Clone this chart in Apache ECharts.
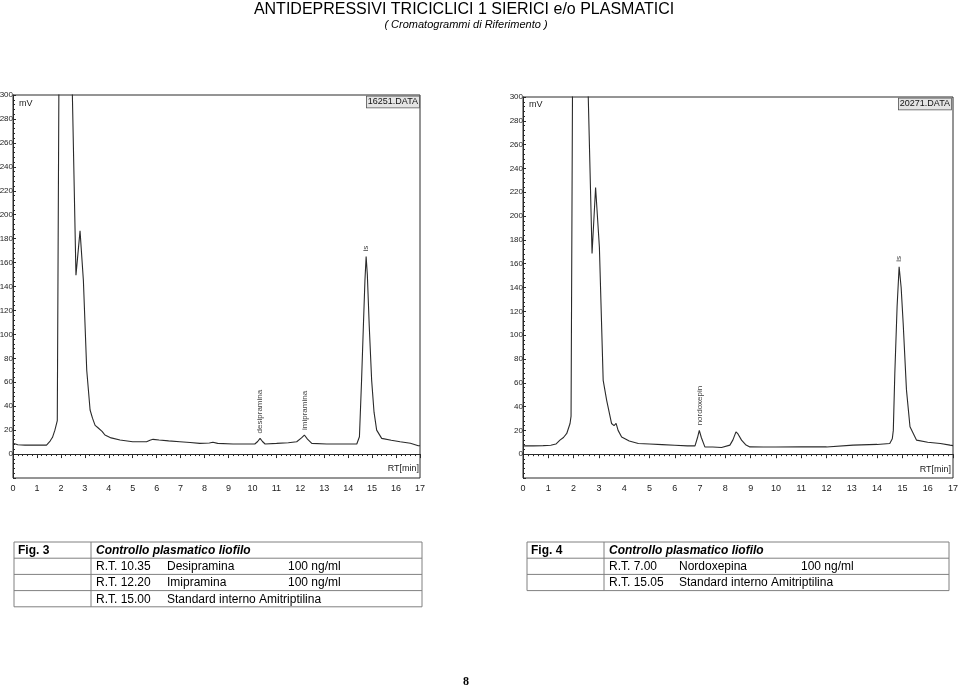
<!DOCTYPE html>
<html><head><meta charset="utf-8">
<script src="https://cdn.jsdelivr.net/npm/echarts@6/dist/echarts.min.js"></script>
<style>html,body{margin:0;padding:0;background:#fff}#c{width:959px;height:689px}</style>
</head><body><div id="c"></div>
<script>
// ---- data ----
const xTickLabels = ['0','1','2','3','4','5','6','7','8','9','10','11','12','13','14','15','16','17'];
const yTickLabels = ['0','20','40','60','80','100','120','140','160','180','200','220','240','260','280','300'];

const fig3Time   = [0, 0.2, 0.5, 1.0, 1.4, 1.55, 1.65, 1.75, 1.85, 1.92, 2.2, 2.48, 2.63, 2.8, 2.94, 3.08, 3.22, 3.32, 3.43, 3.55, 3.63, 3.72, 3.84, 4.1, 4.47, 5.0, 5.58, 5.72, 5.85, 6.1, 6.5, 6.97, 7.4, 7.8, 8.2, 8.35, 8.55, 9.19, 10.1, 10.22, 10.32, 10.42, 10.53, 11.01, 11.5, 11.85, 12.05, 12.17, 12.3, 12.48, 13.1, 13.8, 14.36, 14.47, 14.56, 14.64, 14.7, 14.75, 14.8, 14.88, 14.98, 15.08, 15.19, 15.4, 15.8, 16.17, 16.6, 16.93, 17.0];
const fig3Signal = [9, 7.8, 7.5, 7.5, 7.5, 10.9, 14, 20, 28, 320, 1200, 300, 149.5, 186.5, 145, 70, 36.8, 30, 24, 22, 22.8, 19, 15.9, 13.5, 11.7, 10.3, 10.3, 11.5, 12.3, 11.7, 11, 10.3, 9.6, 8.9, 9.2, 9.8, 8.9, 8.4, 8.4, 10.5, 13.1, 10.5, 8.4, 8.9, 9.5, 10.3, 13.5, 15.9, 12.5, 8.9, 8.4, 8.4, 8.4, 14.5, 61.8, 110, 145, 165, 150, 107, 61.8, 35, 20, 13.1, 11.5, 10.3, 9, 7.0, 6.9];

const fig4Time   = [0, 0.4, 0.8, 1.1, 1.3, 1.46, 1.6, 1.73, 1.86, 1.9, 1.96, 2.25, 2.58, 2.73, 2.87, 3.02, 3.17, 3.31, 3.5, 3.6, 3.68, 3.76, 3.9, 4.2, 4.56, 5.0, 5.5, 6.0, 6.5, 6.8, 6.9, 6.97, 7.05, 7.19, 7.5, 7.85, 8.18, 8.3, 8.42, 8.5, 8.64, 8.8, 8.97, 9.5, 10.0, 11.0, 12.0, 13.05, 14.0, 14.5, 14.6, 14.64, 14.7, 14.79, 14.87, 14.95, 15.03, 15.16, 15.3, 15.56, 16.0, 16.5, 16.88, 17.0];
const fig4Signal = [7, 7, 7.2, 7.5, 8.5, 11.8, 14, 17.4, 25.8, 32, 320, 1200, 300, 168.6, 224, 174, 62, 45, 25.8, 24, 25.8, 20, 14.5, 11, 9, 8.5, 8, 7.5, 7, 7, 14, 20, 14, 6.1, 6, 5.6, 7.6, 12, 18.7, 17, 11.8, 8, 6.1, 6, 6, 6.1, 6.1, 7.6, 8.2, 9, 13, 20, 68, 124, 157.4, 140, 110, 54, 23, 11.8, 10, 9, 7.6, 7.2];

const fig3PeakNames = ['desipramina', 'imipramina', 'is'];
const fig3PeakTimes = [10.32, 12.17, 14.75];
const fig3PeakHeights = [13.1, 15.9, 165];
const fig4PeakNames = ['nordoxepin', 'is'];
const fig4PeakTimes = [6.97, 14.87];
const fig4PeakHeights = [20, 157.4];

const fig3Caption = ['Fig. 3', 'Controllo plasmatico liofilo'];
const fig3Rows = [['R.T. 10.35', 'Desipramina', '100 ng/ml'], ['R.T. 12.20', 'Imipramina', '100 ng/ml'], ['R.T. 15.00', 'Standard interno Amitriptilina', '']];
const fig4Caption = ['Fig. 4', 'Controllo plasmatico liofilo'];
const fig4Rows = [['R.T. 7.00', 'Nordoxepina', '100 ng/ml'], ['R.T. 15.05', 'Standard interno Amitriptilina', '']];

// ---- chart ----
const chart = echarts.init(document.getElementById('c'), null, {renderer: 'canvas'});
const axisFont = "'Liberation Sans',Arial,sans-serif";
const ink = '#2a2a2a';

function xAx(gi) {
  return {
    gridIndex: gi, type: 'value', min: 0, max: 17, interval: 1,
    axisLine: {show: true, lineStyle: {color: ink, width: 1}},
    axisTick: {show: true, length: 4, lineStyle: {color: ink}},
    minorTick: {show: true, splitNumber: 5, length: 2, lineStyle: {color: ink}},
    splitLine: {show: false},
    axisLabel: {fontSize: 9, margin: 6, color: '#222', fontFamily: axisFont,
      formatter: v => xTickLabels[Math.round(v)] ?? ''}
  };
}
function yAx(gi) {
  return {
    gridIndex: gi, type: 'value', min: -20, max: 300, interval: 20,
    axisLine: {show: true, lineStyle: {color: ink, width: 1}},
    axisTick: {show: true, inside: true, length: 3, lineStyle: {color: ink}},
    minorTick: {show: true, splitNumber: 5, length: 2, lineStyle: {color: ink}},
    splitLine: {show: false},
    axisLabel: {fontSize: 8, margin: 0, color: '#222', fontFamily: axisFont,
      formatter: v => v < 0 ? '' : (yTickLabels[Math.round(v / 20)] ?? '')}
  };
}
function peakMarks(names, times, heights) {
  return {
    symbol: 'rect', symbolSize: [0.01, 0.01], silent: true, animation: false,
    label: {show: true, position: 'top', distance: 5, rotate: 90, align: 'left', verticalAlign: 'middle',
      fontSize: 8, color: '#444', fontFamily: axisFont, formatter: p => p.name},
    data: names.map((n, i) => ({name: n, coord: [times[i], heights[i]]}))
  };
}
function lineSeries(gi, t, s, marks) {
  return {
    type: 'line', xAxisIndex: gi, yAxisIndex: gi, showSymbol: false, clip: true, animation: false,
    lineStyle: {color: ink, width: 1.1}, itemStyle: {color: ink},
    data: t.map((x, i) => [x, s[i]]), markPoint: marks
  };
}

// table graphics
function table(x0, xDiv, x1, yTop, rowH, caption, rows, cols) {
  const els = [];
  const nRows = rows.length + 1;
  const lc = '#808080';
  for (let r = 0; r <= nRows; r++) {
    const y = yTop + r * rowH;
    els.push({type: 'line', shape: {x1: x0, y1: y, x2: x1, y2: y}, style: {stroke: lc, lineWidth: 1}});
  }
  const yb = yTop + nRows * rowH;
  [x0, xDiv, x1].forEach(x => els.push({type: 'line', shape: {x1: x, y1: yTop, x2: x, y2: yb}, style: {stroke: lc, lineWidth: 1}}));
  const f = "'Liberation Sans',Arial,sans-serif";
  els.push({type: 'text', x: x0 + 4, y: yTop + rowH / 2 + 0.5, style: {text: caption[0], font: 'bold 12px ' + f, fill: '#000', verticalAlign: 'middle'}});
  els.push({type: 'text', x: xDiv + 5, y: yTop + rowH / 2 + 0.5, style: {text: caption[1], font: 'italic bold 12px ' + f, fill: '#000', verticalAlign: 'middle'}});
  rows.forEach((row, i) => {
    const y = yTop + (i + 1.5) * rowH + 0.5;
    row.forEach((txt, j) => {
      if (txt) els.push({type: 'text', x: cols[j], y: y, style: {text: txt, font: '12px ' + f, fill: '#000', verticalAlign: 'middle'}});
    });
  });
  return els;
}

const smallFont = "9px 'Liberation Sans',Arial,sans-serif";
const graphics = [
  {type: 'text', x: 464, y: 10, style: {text: 'ANTIDEPRESSIVI TRICICLICI 1 SIERICI e/o PLASMATICI', font: "16px 'Liberation Sans',Arial,sans-serif", fill: '#000', align: 'center', verticalAlign: 'middle'}},
  {type: 'text', x: 466, y: 25, style: {text: '( Cromatogrammi di Riferimento )', font: "italic 11px 'Liberation Sans',Arial,sans-serif", fill: '#000', align: 'center', verticalAlign: 'middle'}},
  {type: 'text', x: 19, y: 104, style: {text: 'mV', font: smallFont, fill: '#222', verticalAlign: 'middle'}},
  {type: 'text', x: 529, y: 105, style: {text: 'mV', font: smallFont, fill: '#222', verticalAlign: 'middle'}},
  {type: 'text', x: 419, y: 102, style: {text: '16251.DATA', font: smallFont, fill: '#111', align: 'right', verticalAlign: 'middle', backgroundColor: '#e4e4e4', borderColor: '#555', borderWidth: 0.8, padding: [1, 1]}},
  {type: 'text', x: 951, y: 104, style: {text: '20271.DATA', font: smallFont, fill: '#111', align: 'right', verticalAlign: 'middle', backgroundColor: '#e4e4e4', borderColor: '#555', borderWidth: 0.8, padding: [1, 1]}},
  {type: 'text', x: 419, y: 469, style: {text: 'RT[min]', font: smallFont, fill: '#222', align: 'right', verticalAlign: 'middle'}},
  {type: 'text', x: 951, y: 470, style: {text: 'RT[min]', font: smallFont, fill: '#222', align: 'right', verticalAlign: 'middle'}},
  {type: 'text', x: 466, y: 682, style: {text: '8', font: "bold 12px 'Liberation Serif',serif", fill: '#000', align: 'center', verticalAlign: 'middle'}}
].concat(
  table(14, 91, 422, 542, 16.2, fig3Caption, fig3Rows, [96, 167, 288]),
  table(527, 604, 949, 542, 16.2, fig4Caption, fig4Rows, [609, 679, 801])
);

chart.setOption({
  animation: false,
  backgroundColor: '#fff',
  grid: [
    {left: 13, top: 95, width: 407, height: 383, show: true, borderColor: ink, borderWidth: 1, backgroundColor: 'transparent', containLabel: false, outerBoundsMode: 'none'},
    {left: 523, top: 97, width: 430, height: 381, show: true, borderColor: ink, borderWidth: 1, backgroundColor: 'transparent', containLabel: false, outerBoundsMode: 'none'}
  ],
  xAxis: [xAx(0), xAx(1)],
  yAxis: [yAx(0), yAx(1)],
  series: [
    lineSeries(0, fig3Time, fig3Signal, peakMarks(fig3PeakNames, fig3PeakTimes, fig3PeakHeights)),
    lineSeries(1, fig4Time, fig4Signal, peakMarks(fig4PeakNames, fig4PeakTimes, fig4PeakHeights))
  ],
  graphic: graphics
});
</script></body></html>
